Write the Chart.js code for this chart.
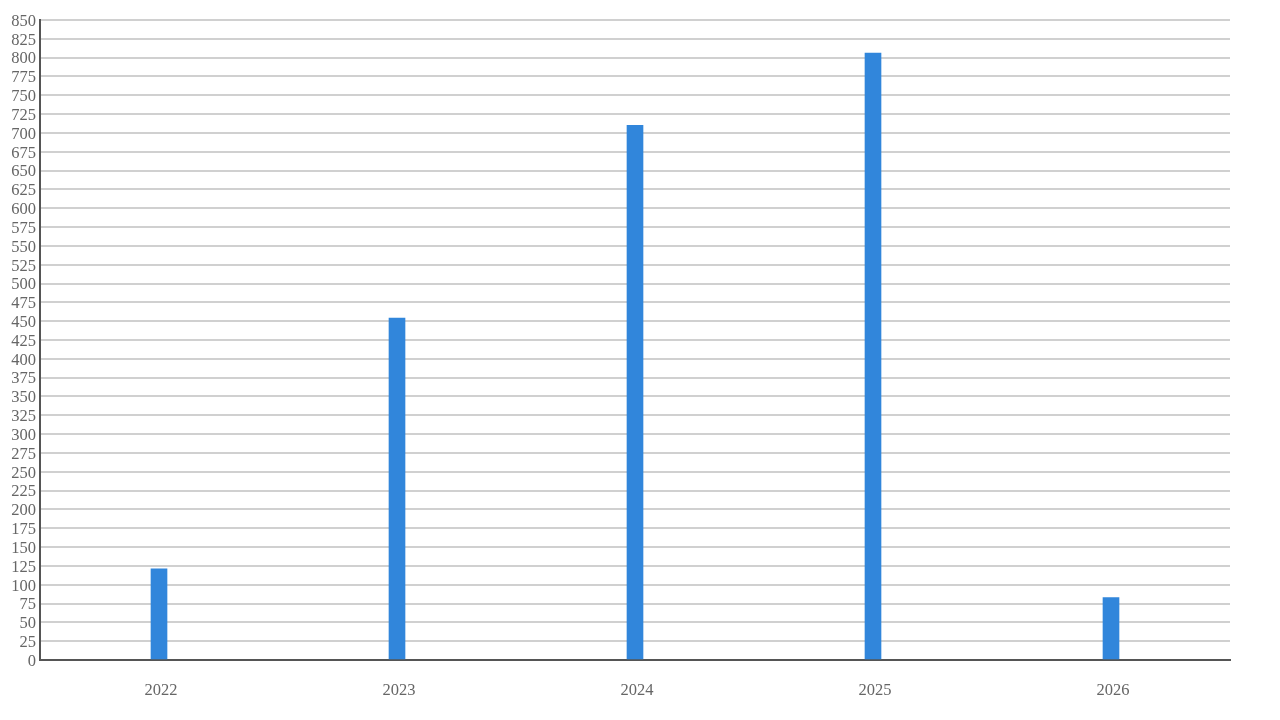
<!DOCTYPE html>
<html>
<head>
<meta charset="utf-8">
<script src="https://cdn.jsdelivr.net/npm/chart.js@4"></script>
<style>
  html, body { margin: 0; padding: 0; background: #fff; }
  #wrap { width: 1280px; height: 720px; }
</style>
</head>
<body>
<div id="wrap"><canvas id="graph"></canvas></div>
<script>
const annees = ['2022', '2023', '2024', '2025', '2026'];
const valeurs = [121, 454, 710, 806, 83];
const yMax = 850;
const yPas = 25;

const ctx = document.getElementById('graph').getContext('2d');
new Chart(ctx, {
    type: 'bar',
    data: {
        labels: annees,
        datasets: [{
            data: valeurs,
            backgroundColor: '#3186db',
            barThickness: 16
        }]
    },
    options: {
        responsive: true,
        maintainAspectRatio: false,
        animation: false,
        layout: { padding: { top: 20, right: 50, left: 0, bottom: 0 } },
        plugins: {
            legend: { display: false },
            tooltip: { enabled: false }
        },
        scales: {
            x: {
                grid: { display: false, drawTicks: false },
                border: { color: '#555', width: 2 },
                ticks: {
                    color: '#666',
                    padding: 21,
                    labelOffset: 2,
                    font: { family: 'Liberation Serif', size: 16.5 }
                },
                afterFit: function(s) { s.height = 60; }
            },
            y: {
                min: 0,
                max: yMax,
                grid: { color: '#d0d0d0', lineWidth: 2, drawTicks: false },
                border: { color: '#555', width: 2 },
                ticks: {
                    stepSize: yPas,
                    autoSkip: false,
                    color: '#666',
                    padding: 4,
                    labelOffset: 1.5,
                    font: { family: 'Liberation Serif', size: 16.5 }
                },
                afterFit: function(s) { s.width = 40; }
            }
        }
    }
});
</script>
</body>
</html>
